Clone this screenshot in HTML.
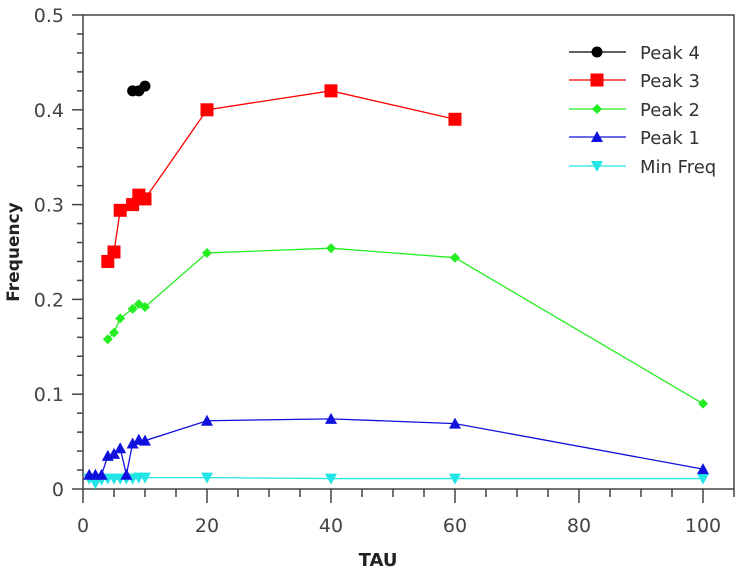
<!DOCTYPE html>
<html><head><meta charset="utf-8"><style>
body{margin:0;background:#fff;}
svg{display:block;font-family:"DejaVu Sans","Liberation Sans",sans-serif;}
</style></head><body>
<svg id="chart" width="742" height="572" viewBox="0 0 742 572">
<g id="axes"></g>
<g id="series"></g>
<g id="legend"></g>
<text x="378" y="566" text-anchor="middle" font-size="18" font-weight="bold" fill="#222">TAU</text>
<text transform="translate(19,252) rotate(-90)" text-anchor="middle" font-size="17" font-weight="bold" fill="#222">Frequency</text>
</svg>
<script>
const xTicks=[0,20,40,60,80,100];
const yTicks=[0,0.1,0.2,0.3,0.4,0.5];
const yTickLabels=["0","0.1","0.2","0.3","0.4","0.5"];
const peak4X=[8,9,10];
const peak4Y=[0.42,0.42,0.425];
const peak3X=[4,5,6,8,9,10,20,40,60];
const peak3Y=[0.24,0.25,0.294,0.30,0.31,0.306,0.40,0.42,0.39];
const peak2X=[4,5,6,8,9,10,20,40,60,100];
const peak2Y=[0.158,0.165,0.18,0.19,0.195,0.192,0.249,0.254,0.244,0.09];
const peak1X=[1,2,3,4,5,6,7,8,9,10,20,40,60,100];
const peak1Y=[0.015,0.015,0.015,0.035,0.037,0.043,0.015,0.048,0.052,0.051,0.072,0.074,0.069,0.021];
const minX=[1,2,3,4,5,6,7,8,9,10,20,40,60,100];
const minY=[0.011,0.006,0.01,0.011,0.011,0.011,0.011,0.011,0.012,0.012,0.012,0.011,0.011,0.011];
const seriesNames=["Peak 4","Peak 3","Peak 2","Peak 1","Min Freq"];

const NS="http://www.w3.org/2000/svg";
const X0=83,X1=734,Y0=489,Y1=15,XMAX=105,YMAX=0.5;
const sx=v=>X0+v*(X1-X0)/XMAX;
const sy=v=>Y0-v*(Y0-Y1)/YMAX;
function mk(tag,attrs,parent){const e=document.createElementNS(NS,tag);for(const k in attrs)e.setAttribute(k,attrs[k]);parent.appendChild(e);return e;}
const axes=document.getElementById('axes');
const frame=mk('rect',{x:X0,y:Y1,width:X1-X0,height:Y0-Y1,fill:'none',stroke:'#444','stroke-width':1.5},axes);


for(let v=0;v<=XMAX;v+=5){
  const major=v%20===0;
  const t=mk('line',{x1:sx(v),x2:sx(v),y1:Y0,y2:Y0+(major?14:8),stroke:'#444','stroke-width':1.5},axes);
  
  
}
xTicks.forEach(v=>{
  const t=mk('text',{x:sx(v),y:532,'text-anchor':'middle','font-size':19,fill:'#444'},axes);
  t.textContent=v;
  
  
});
for(let i=0;i<=25;i++){
  const v=i*0.02;
  const major=i%5===0;
  const t=mk('line',{x1:X0-(major?11:6),x2:X0,y1:sy(v),y2:sy(v),stroke:'#444','stroke-width':1.5},axes);
  
  
}
yTicks.forEach((v,i)=>{
  const t=mk('text',{x:64,y:sy(v)+7,'text-anchor':'end','font-size':19,fill:'#444'},axes);
  t.textContent=yTickLabels[i];
  
  
});
function marker(g,type,cx,cy,color){
  let e;
  if(type==='circle')e=mk('circle',{cx,cy,r:5.5,fill:color},g);
  else if(type==='square')e=mk('rect',{x:cx-6.5,y:cy-6.5,width:13,height:13,fill:color},g);
  else if(type==='diamond')e=mk('polygon',{points:`${cx},${cy-5} ${cx+5},${cy} ${cx},${cy+5} ${cx-5},${cy}`,fill:color},g);
  else if(type==='up')e=mk('polygon',{points:`${cx},${cy-6} ${cx+6},${cy+5} ${cx-6},${cy+5}`,fill:color},g);
  else e=mk('polygon',{points:`${cx},${cy+6} ${cx+6},${cy-5} ${cx-6},${cy-5}`,fill:color},g);
  return e;
}
const defs=[
 {xs:peak4X,ys:peak4Y,c:'#000000',m:'circle',n:'peak-4'},
 {xs:peak3X,ys:peak3Y,c:'#ff0000',m:'square',n:'peak-3'},
 {xs:peak2X,ys:peak2Y,c:'#22ee22',m:'diamond',n:'peak-2'},
 {xs:peak1X,ys:peak1Y,c:'#1111dd',m:'up',n:'peak-1'},
 {xs:minX,ys:minY,c:'#22e5e5',m:'down',n:'min-freq'}
];
const sg=document.getElementById('series');
defs.slice().reverse().forEach(d=>{
  const g=mk('g',{},sg);
  
  
  const pl=mk('polyline',{points:d.xs.map((x,i)=>sx(x)+','+sy(d.ys[i])).join(' '),fill:'none',stroke:d.c,'stroke-width':1.3},g);
  
  
  d.xs.forEach((x,i)=>{
    const p=marker(g,d.m,sx(x),sy(d.ys[i]),d.c);
    
    
  });
});
const lg=document.getElementById('legend');
const rowY=[52,80,109,137,166];
defs.forEach((d,i)=>{
  const y=rowY[i];
  const g=mk('g',{},lg);
  
  
  mk('line',{x1:569,x2:626,y1:y,y2:y,stroke:d.c,'stroke-width':1.3},g);
  marker(g,d.m,597,y,d.c);
  const t=mk('text',{x:640,y:y+7,'font-size':18,fill:'#333'},g);
  t.textContent=seriesNames[i];
});
</script>
</body></html>
